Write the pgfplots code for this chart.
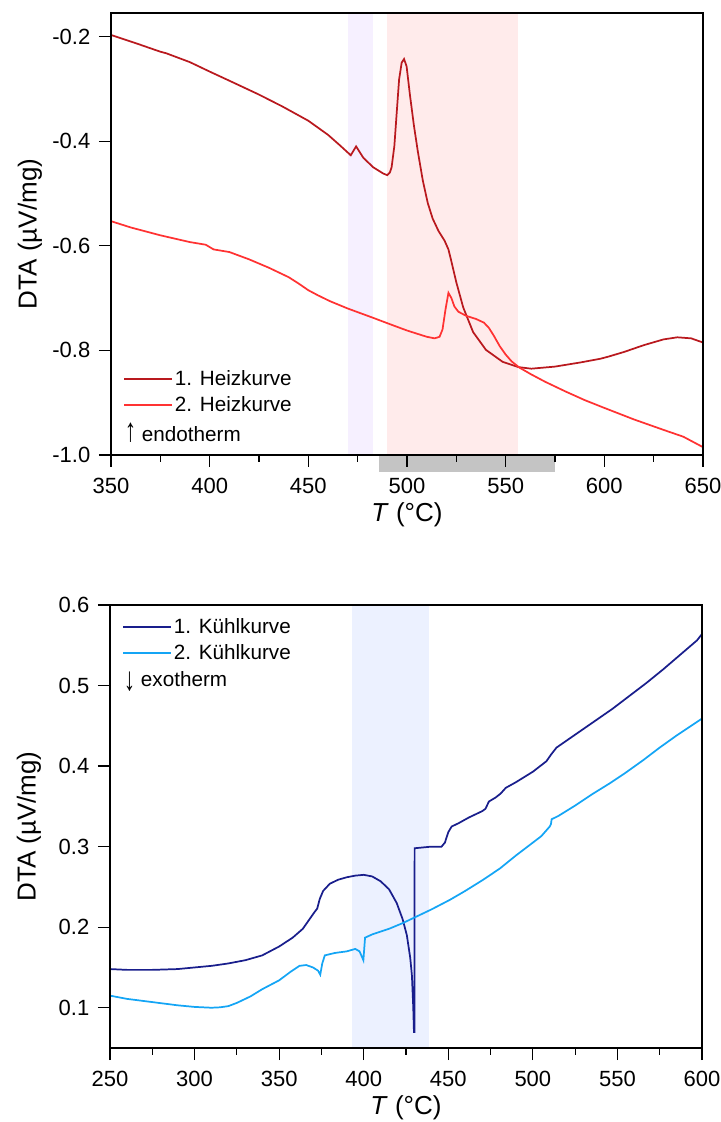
\documentclass[border=0pt]{standalone}
\usepackage{fontspec}
\setmainfont{Liberation Sans}
\usepackage{graphicx}
\usepackage{pgfplots}
\pgfplotsset{compat=1.18}
\definecolor{heizA}{RGB}{185,25,30}
\definecolor{heizB}{RGB}{255,50,50}
\definecolor{kuehlA}{RGB}{25,30,140}
\definecolor{kuehlB}{RGB}{20,165,245}
\definecolor{shLav}{RGB}{246,240,255}
\definecolor{shPink}{RGB}{255,235,235}
\definecolor{shBlue}{RGB}{236,241,255}
\definecolor{shGrey}{RGB}{196,196,196}
\newcommand{\uparr}{\raisebox{-0.5pt}{\scalebox{1.1}[1.6]{↑}}}
\newcommand{\downarr}{\raisebox{-3pt}{\scalebox{1.1}[1.6]{↓}}}
\begin{document}
\begin{tikzpicture}[x=1pt,y=1pt]
\useasboundingbox (0,0) rectangle (540.75,841.5);
\pgfplotsset{
 every axis/.append style={
  scale only axis, width=444pt,
  axis line style={line width=0.9pt},
  every tick/.style={line width=0.9pt, black},
  tick align=outside,
  xtick pos=left, ytick pos=left,
  major tick length=9pt, minor tick length=5pt,
  minor x tick num=1,
  tick label style={font=\fontsize{16.5}{19}\selectfont},
  xticklabel style={yshift=-5pt},
  yticklabel style={xshift=-3pt},
  label style={font=\fontsize{19.5}{22}\selectfont},
  /pgf/number format/assume math mode=true,
  yticklabel style={/pgf/number format/.cd, fixed, fixed zerofill, precision=1},
  xticklabel style={/pgf/number format/.cd, fixed, precision=0},
  axis on top,
  clip=false,
  legend cell align=left,
  legend style={draw=none, fill=none, inner sep=0pt, row sep=4pt,
    font=\fontsize{15.5}{18}\selectfont,
    nodes={inner sep=1.5pt}},
  legend image code/.code={\draw[#1, line width=1.4pt] (0pt,0pt) -- (36pt,0pt);},
  xlabel={\textit{T} (°C)},
  ylabel={DTA (µV/mg)},
  xlabel style={at={(axis description cs:0.5,-0.136)}, anchor=center},
  ylabel style={at={(axis description cs:-0.137,0.5)}, anchor=center},
 }
}
% ---------------- top -----------------
\begin{axis}[at={(83.25pt,500.25pt)}, anchor=south west,
  height=331.5pt,
  xmin=350, xmax=650, ymin=-1.0, ymax=-0.155,
  xtick={350,400,...,650},
  ytick={-1.0,-0.8,-0.6,-0.4,-0.2},
  legend style={at={(axis description cs:0.02,0.197)}, anchor=north west},
]
\addplot[draw=none, fill=shLav, forget plot] coordinates {(470,-1.0) (483,-1.0) (483,-0.155) (470,-0.155)} -- cycle;
\addplot[draw=none, fill=shPink, forget plot] coordinates {(490,-1.0) (556.5,-1.0) (556.5,-0.155) (490,-0.155)} -- cycle;
\addplot[draw=none, fill=shGrey, forget plot] coordinates {(486,-1.0015) (575,-1.0015) (575,-1.033) (486,-1.033)} -- cycle;
\addplot[heizA, line width=1.3pt] coordinates {
(350,-0.197) (362,-0.212) (375,-0.229) (378,-0.232) (390,-0.249) (400,-0.267) (412,-0.288)
(425,-0.311) (437,-0.334) (450,-0.361) (460,-0.388) (466,-0.408) (471.5,-0.427)
(474.2,-0.410) (477.9,-0.432) (482.9,-0.450) (488,-0.462) (490,-0.465) (491.3,-0.460)
(492.2,-0.450) (493.6,-0.409) (494.8,-0.345) (496,-0.282) (497.3,-0.250) (498.5,-0.243)
(499.8,-0.257) (501.5,-0.312) (503.5,-0.370) (505.5,-0.420) (508,-0.475) (510.5,-0.518)
(513,-0.548) (516,-0.572) (519,-0.590) (521,-0.607) (522.5,-0.630) (525,-0.670)
(528.5,-0.718) (533.5,-0.765) (540,-0.799) (548.5,-0.822) (556.5,-0.832) (563,-0.835)
(575,-0.831) (588,-0.823) (598,-0.816) (602,-0.812) (610,-0.803) (620,-0.790)
(630,-0.779) (637,-0.775) (644,-0.777) (650,-0.785)};
\addlegendentry{1. Heizkurve}
\addplot[heizB, line width=1.3pt] coordinates {
(350,-0.553) (360,-0.565) (375,-0.580) (390,-0.593) (398,-0.598) (402,-0.607) (410,-0.612)
(420,-0.626) (430,-0.642) (440,-0.660) (445,-0.672) (450,-0.685) (455,-0.695) (461,-0.706)
(470,-0.720) (483,-0.738) (490,-0.748) (500,-0.762) (510,-0.774) (514,-0.777) (516.5,-0.774)
(518,-0.760) (519.5,-0.722) (521,-0.690) (522.5,-0.700) (524,-0.716) (526,-0.726)
(530,-0.734) (535,-0.740) (539,-0.747) (541.5,-0.757) (544,-0.772) (547,-0.792) (550,-0.808)
(553,-0.821) (557,-0.833) (563,-0.846) (570,-0.860) (580,-0.878) (590,-0.895) (600,-0.910)
(615,-0.932) (630,-0.952) (640,-0.965) (650,-0.985)};
\addlegendentry{2. Heizkurve}
\node[anchor=west, inner sep=0pt, font=\fontsize{15.5}{18}\selectfont] at (axis description cs:0.023,0.05) {\uparr\ endotherm};
\end{axis}
% ---------------- bottom -----------------
\begin{axis}[at={(82.5pt,55.5pt)}, anchor=south west,
  height=332.25pt,
  xmin=250, xmax=600, ymin=0.05, ymax=0.6,
  xtick={250,300,...,600},
  ytick={0.1,0.2,...,0.6},
  legend style={at={(axis description cs:0.02,0.9755)}, anchor=north west},
]
\addplot[draw=none, fill=shBlue, forget plot] coordinates {(393,0.05) (438.6,0.05) (438.6,0.6) (393,0.6)} -- cycle;
\addplot[kuehlA, line width=1.3pt] coordinates {
(250,0.148) (260,0.147) (275,0.147) (290,0.148) (300,0.150) (310,0.152) (320,0.155)
(330,0.159) (340,0.165) (350,0.176) (358,0.187) (364,0.198) (368,0.210) (371,0.219)
(372.5,0.223) (374,0.235) (376,0.245) (380,0.254) (385,0.259) (390,0.262) (395,0.264)
(400,0.265) (405,0.263) (410,0.257) (415,0.247) (419.5,0.230) (423,0.210) (425.5,0.190)
(427.5,0.162) (428.5,0.140) (429.3,0.100) (429.7,0.070) (430.0,0.070) (430.1,0.298)
(435,0.299) (440,0.300) (446,0.300) (448,0.305) (450,0.318) (452,0.325) (456,0.329)
(462,0.336) (470,0.344) (472,0.347) (474,0.356) (478,0.361) (481,0.366) (484,0.373)
(490,0.380) (500,0.393) (508,0.406) (511,0.415) (514,0.423) (525,0.439) (536,0.455)
(547,0.471) (557,0.487) (567,0.503) (577,0.520) (587,0.538) (597,0.556) (600,0.564)};
\addlegendentry{1. Kühlkurve}
\addplot[kuehlB, line width=1.3pt] coordinates {
(250,0.115) (260,0.111) (275,0.107) (290,0.103) (300,0.101) (310,0.100) (315,0.1005)
(320,0.102) (325,0.106) (333,0.114) (340,0.123) (350,0.134) (357,0.145) (362,0.152) (366,0.153)
(370,0.150) (373,0.146) (374.3,0.141) (375.5,0.155) (377,0.165) (383,0.168) (390,0.170)
(395,0.173) (397.5,0.170) (399,0.163) (399.8,0.159) (400.8,0.187) (405,0.191) (415,0.198)
(423,0.205) (430,0.212) (440,0.222) (451,0.234) (460,0.245) (470.7,0.259) (480.6,0.273)
(490,0.289) (500,0.305) (505,0.313) (510,0.325) (510.7,0.328) (511.1,0.334) (515,0.338)
(525,0.351) (535,0.365) (545,0.378) (555,0.392) (565,0.407) (575,0.423) (585,0.438)
(600,0.459)};
\addlegendentry{2. Kühlkurve}
\node[anchor=west, inner sep=0pt, font=\fontsize{15.5}{18}\selectfont] at (axis description cs:0.023,0.827) {\downarr\ exotherm};
\end{axis}
\end{tikzpicture}
\end{document}
